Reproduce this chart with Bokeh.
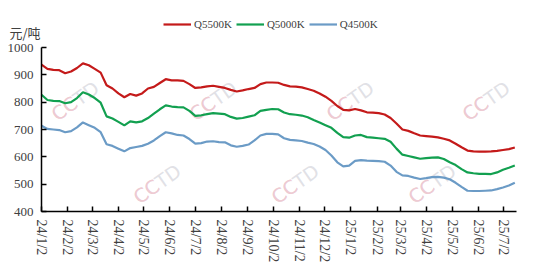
import math
import pandas as pd
from bokeh.plotting import figure
from bokeh.models import FixedTicker, Range1d, Legend, LegendItem, Label
from bokeh.embed import file_html
from bokeh.resources import INLINE

# ---------------- data (weekly readings, 元/吨) ----------------
dates = pd.date_range("2024-01-02", periods=81, freq="7D")

q5500 = [937, 922, 918, 917, 906, 912, 925, 942, 935, 922,
         908, 862, 850, 832, 818, 830, 824, 832, 850, 856,
         870, 884, 880, 880, 878, 866, 852, 854, 858, 860,
         856, 852, 845, 839, 843, 848, 852, 866, 872, 872,
         871, 863, 858, 857, 854, 848, 842, 832, 820, 805,
         786, 772, 770, 775, 770, 763, 762, 760, 755, 742,
         722, 700, 695, 686, 678, 676, 674, 671, 666, 660,
         648, 635, 623, 620, 619, 619, 620, 622, 625, 628,
         634]

q5000 = [827, 808, 805, 804, 796, 800, 815, 836, 828, 815,
         798, 748, 740, 728, 715, 730, 726, 730, 742, 758,
         774, 788, 784, 782, 781, 768, 750, 752, 756, 760,
         758, 756, 746, 740, 742, 747, 752, 768, 772, 775,
         774, 762, 756, 754, 751, 745, 735, 726, 716, 706,
         688, 672, 670, 678, 680, 672, 670, 668, 666, 655,
         630, 608, 603, 598, 593, 595, 597, 598, 592, 580,
         570, 555, 543, 540, 538, 538, 537, 543, 553, 560,
         568]

q4500 = [714, 702, 700, 698, 690, 694, 708, 726, 716, 706,
         690, 646, 640, 630, 620, 632, 636, 640, 648, 660,
         676, 690, 686, 680, 678, 665, 648, 650, 656, 657,
         654, 653, 642, 637, 640, 645, 660, 678, 684, 684,
         682, 668, 662, 660, 658, 652, 647, 638, 625, 605,
         580, 565, 568, 585, 588, 586, 585, 584, 582, 568,
         545, 532, 530, 524, 519, 522, 526, 527, 524, 518,
         505, 490, 476, 475, 475, 476, 477, 482, 488, 495,
         505]

series_names = ["Q5500K", "Q5000K", "Q4500K"]
series_colors = ["#c41a1a", "#12a050", "#6b9bc6"]

tick_labels = ["24/1/2", "24/2/2", "24/3/2", "24/4/2", "24/5/2", "24/6/2",
               "24/7/2", "24/8/2", "24/9/2", "24/10/2", "24/11/2", "24/12/2",
               "25/1/2", "25/2/2", "25/3/2", "25/4/2", "25/5/2", "25/6/2",
               "25/7/2"]
y_ticks = [400, 500, 600, 700, 800, 900, 1000]
y_min, y_max = 400, 1000
unit_label = "元/吨"

# ---------------- layout geometry (pixels) ----------------
W, H = 550, 272
ax_left, ax_right, ax_top, ax_bottom = 41, 516, 47, 211

x_start_ms = pd.Timestamp("2024-01-02").value / 1e6
x_end_ms = pd.Timestamp("2025-07-17").value / 1e6
mpp = (x_end_ms - x_start_ms) / (ax_right - ax_left)
vpp = (y_max - y_min) / (ax_bottom - ax_top)

p = figure(width=W, height=H, x_axis_type="datetime",
           output_backend="svg", toolbar_location=None,
           x_range=Range1d(x_start_ms - ax_left * mpp, x_end_ms + (W - ax_right) * mpp),
           y_range=Range1d(y_min - (H - ax_bottom) * vpp, y_max + ax_top * vpp),
           min_border_left=0, min_border_right=0,
           min_border_top=0, min_border_bottom=0)
p.outline_line_color = None
p.xgrid.grid_line_color = None
p.ygrid.grid_line_color = None
p.background_fill_color = "white"
p.border_fill_color = "white"

renderers = []
for vals, name, col in zip([q5500, q5000, q4500], series_names, series_colors):
    r = p.line(dates, vals, line_color=col, line_width=2.2)
    renderers.append(r)

# ticks
tick_dates = [pd.Timestamp("20" + t.replace("/", "-")) for t in tick_labels]
tick_ms = [float(d.value // 10**6) for d in tick_dates]

xa = p.xaxis[0]
xa.fixed_location = y_min
xa.bounds = (x_start_ms, x_end_ms)
xa.ticker = FixedTicker(ticks=tick_ms)
xa.major_label_overrides = {ms: lab for ms, lab in zip(tick_ms, tick_labels)}
xa.major_label_orientation = -math.pi / 2
xa.minor_tick_line_color = None
xa.major_tick_in = 5
xa.major_tick_out = 0
xa.axis_line_color = "black"
xa.axis_line_width = 1.5
xa.major_tick_line_color = "black"
xa.major_tick_line_width = 1.5
xa.major_label_text_font = "Liberation Serif"
xa.major_label_text_font_size = "14px"
xa.major_label_text_color = "#404040"
xa.major_label_standoff = 8

ya = p.yaxis[0]
ya.fixed_location = x_start_ms
ya.bounds = (y_min, y_max)
ya.ticker = FixedTicker(ticks=y_ticks)
ya.minor_tick_line_color = None
ya.major_tick_in = 5
ya.major_tick_out = 0
ya.axis_line_color = "black"
ya.axis_line_width = 1.5
ya.major_tick_line_color = "black"
ya.major_tick_line_width = 1.5
ya.major_label_text_font = "Liberation Serif"
ya.major_label_text_font_size = "13px"
ya.major_label_text_color = "#404040"
ya.major_label_standoff = 8

# unit label
p.add_layout(Label(x=9, y=H - 22, x_units="screen", y_units="screen", text=unit_label,
                   text_font="Noto Sans CJK SC", text_font_size="13px",
                   text_color="#404040", text_baseline="top", text_align="left"))

# legend
legend = Legend(items=[LegendItem(label=n, renderers=[r]) for n, r in zip(series_names, renderers)],
                orientation="horizontal", location=(163, H - 16 - 16),
                border_line_color=None, background_fill_alpha=0,
                label_text_font="Liberation Serif", label_text_font_size="11px",
                label_text_color="#404040", label_height=16,
                glyph_width=28, glyph_height=12, label_standoff=3,
                spacing=4, padding=0, margin=0)
p.add_layout(legend)

# watermarks (decorative)
ang = math.radians(35)
half_w = 27
wm_centers = [(75, 100), (213, 100), (350, 100), (486, 100),
              (157, 183), (295, 183), (432, 183)]
for cx, cy in wm_centers:
    sx = cx - half_w * math.cos(ang)
    sy = H - cy - half_w * math.sin(ang)
    for txt, colr in (("CCTD", "#d9d9e0"), ("CC", "#f3c4cd")):
        p.add_layout(Label(x=sx, y=sy, x_units="screen", y_units="screen", text=txt,
                           angle=ang, text_font="DejaVu Sans", text_font_size="19px",
                           text_color=colr, text_alpha=0.8,
                           text_align="left", text_baseline="middle", level="underlay"))

open("out.html", "w").write(file_html(p, INLINE))
